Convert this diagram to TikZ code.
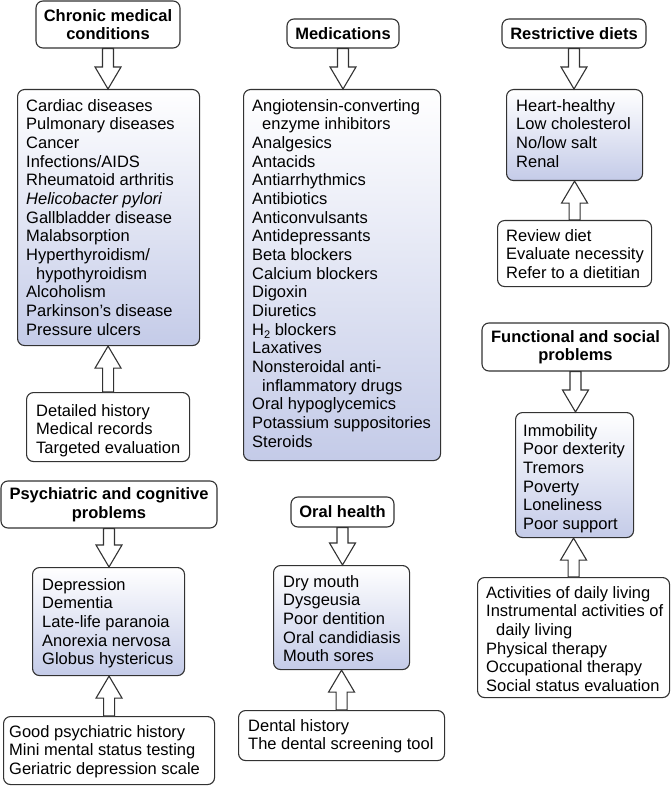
\documentclass[tikz,border=0pt]{standalone}
\usepackage{fontspec}
\setmainfont{Liberation Sans}
\usetikzlibrary{calc}
\definecolor{edge}{RGB}{50,50,50}
\definecolor{listblue}{RGB}{196,203,232}
\tikzset{
  boxbase/.style={draw=edge, line width=1.1pt, rounded corners=7pt, inner sep=0pt, anchor=north west},
  listbox/.style={boxbase, top color=white, bottom color=listblue},
  plainbox/.style={boxbase, fill=white},
  titlebox/.style={draw=edge, line width=1.1pt, rounded corners=7pt, fill=white, inner sep=0pt, align=center, font=\fontsize{16.5}{18.5}\selectfont\bfseries},
  txt/.style={anchor=north west, inner sep=0pt, align=left, font=\fontsize{16.5}{18.67}\selectfont},
  arrowshape/.style={draw=edge, line width=1.1pt, fill=white, line join=miter},
}
\newcommand{\fatarrow}[2]{%
  \draw[arrowshape] let \p1=(#1), \p2=(#2), \n1={sign(\y1-\y2)*22} in
    (\x1-5.5pt,\y1) -- (\x1-5.5pt,\y2+\n1*1pt) -- (\x1-13pt,\y2+\n1*1pt) -- (\x1,\y2)
    -- (\x1+13pt,\y2+\n1*1pt) -- (\x1+5.5pt,\y2+\n1*1pt) -- (\x1+5.5pt,\y1) -- cycle;}
\newcommand{\fs}{\rule{0pt}{13pt}}
\begin{document}
\begin{tikzpicture}[x=1pt,y=-1pt]
\useasboundingbox (0,0) rectangle (671,786);

% titles
\node[titlebox, minimum width=144pt, minimum height=47pt] (t1) at (108,24.5) {Chronic medical\\conditions};
\node[titlebox, minimum width=112pt, minimum height=29pt] (t2) at (343,33.5) {Medications};
\node[titlebox, minimum width=144pt, minimum height=29pt] (t3) at (574,33.5) {Restrictive diets};
\node[titlebox, minimum width=216pt, minimum height=47pt] (t4) at (109,504.5) {Psychiatric and cognitive\\problems};
\node[titlebox, minimum width=103pt, minimum height=30pt] (t5) at (342.5,512) {Oral health};
\node[titlebox, minimum width=187pt, minimum height=48pt] (t6) at (575.5,347) {Functional and social\\problems};

% list boxes
\node[listbox, minimum width=182pt, minimum height=256pt] (b1) at (17,89) {};
\node[listbox, minimum width=197pt, minimum height=371pt] (b2) at (243,89) {};
\node[listbox, minimum width=136pt, minimum height=91pt] (b3) at (506,89) {};
\node[listbox, minimum width=152pt, minimum height=108pt] (b4) at (32,567) {};
\node[listbox, minimum width=136pt, minimum height=104pt] (b5) at (273,565) {};
\node[listbox, minimum width=118pt, minimum height=125pt] (b6) at (515,412) {};

% evaluation boxes
\node[plainbox, minimum width=163pt, minimum height=69pt] (c1) at (26,392) {};
\node[plainbox, minimum width=211pt, minimum height=68pt] (c2) at (3,716) {};
\node[plainbox, minimum width=206pt, minimum height=50pt] (c3) at (238,710) {};
\node[plainbox, minimum width=154pt, minimum height=66pt] (c4) at (497,220) {};
\node[plainbox, minimum width=192pt, minimum height=120pt] (c5) at (477,577) {};

% texts
\node[txt] (b1t) at ([shift={(9,9)}]b1.north west) {\fs Cardiac diseases\\Pulmonary diseases\\Cancer\\Infections/AIDS\\Rheumatoid arthritis\\\textit{Helicobacter pylori}\\Gallbladder disease\\Malabsorption\\Hyperthyroidism/\\\hspace*{10pt}hypothyroidism\\Alcoholism\\Parkinson’s disease\\Pressure ulcers};
\node[txt] (b2t) at ([shift={(9,9)}]b2.north west) {\fs Angiotensin-converting\\\hspace*{10pt}enzyme inhibitors\\Analgesics\\Antacids\\Antiarrhythmics\\Antibiotics\\Anticonvulsants\\Antidepressants\\Beta blockers\\Calcium blockers\\Digoxin\\Diuretics\\H\raisebox{-3.5pt}{\fontsize{11}{11}\selectfont 2} blockers\\Laxatives\\Nonsteroidal anti-\\\hspace*{10pt}inflammatory drugs\\Oral hypoglycemics\\Potassium suppositories\\Steroids};
\node[txt] (b3t) at ([shift={(10,9)}]b3.north west) {\fs Heart-healthy\\Low cholesterol\\No/low salt\\Renal};
\node[txt] (b4t) at ([shift={(10,10)}]b4.north west) {\fs Depression\\Dementia\\Late-life paranoia\\Anorexia nervosa\\Globus hystericus};
\node[txt] (b5t) at ([shift={(10,9)}]b5.north west) {\fs Dry mouth\\Dysgeusia\\Poor dentition\\Oral candidiasis\\Mouth sores};
\node[txt] (b6t) at ([shift={(8,11)}]b6.north west) {\fs Immobility\\Poor dexterity\\Tremors\\Poverty\\Loneliness\\Poor support};
\node[txt] (c1t) at ([shift={(10,11)}]c1.north west) {\fs Detailed history\\Medical records\\Targeted evaluation};
\node[txt] (c2t) at ([shift={(6,8)}]c2.north west) {\fs Good psychiatric history\\Mini mental status testing\\Geriatric depression scale};
\node[txt] (c3t) at ([shift={(10,8)}]c3.north west) {\fs Dental history\\The dental screening tool};
\node[txt] (c4t) at ([shift={(9,8)}]c4.north west) {\fs Review diet\\Evaluate necessity\\Refer to a dietitian};
\node[txt] (c5t) at ([shift={(9,8)}]c5.north west) {\fs Activities of daily living\\Instrumental activities of\\\hspace*{10pt}daily living\\Physical therapy\\Occupational therapy\\Social status evaluation};

% arrows
\fatarrow{t1.south}{b1.north}
\fatarrow{t2.south}{b2.north}
\fatarrow{t3.south}{b3.north}
\fatarrow{t4.south}{b4.north}
\fatarrow{t5.south}{b5.north}
\fatarrow{t6.south}{b6.north}
\fatarrow{c1.north}{b1.south}
\fatarrow{c2.north}{b4.south}
\fatarrow{c3.north}{b5.south}
\fatarrow{c4.north}{b3.south}
\fatarrow{c5.north}{b6.south}
\end{tikzpicture}
\end{document}
